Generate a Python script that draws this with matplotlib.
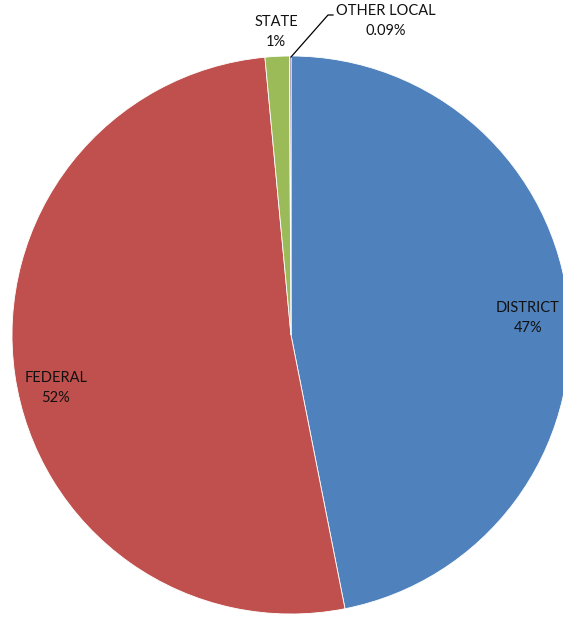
import matplotlib
matplotlib.use('Agg')
import matplotlib.pyplot as plt

plt.rcParams['font.family'] = ['Lato', 'DejaVu Sans']

# revenue sources
labels = ['DISTRICT', 'FEDERAL', 'STATE', 'OTHER LOCAL']
shares = [46.9, 51.61, 1.4, 0.09]
pct_text = ['47%', '52%', '1%', '0.09%']
colors = ['#4F81BD', '#C0504D', '#9BBB59', '#8064A2']

W, H = 563, 618
cx, cy, r = 291, 335, 279

fig = plt.figure(figsize=(W / 100, H / 100), dpi=100)
fig.patch.set_facecolor('white')
ax = fig.add_axes([(cx - r) / W, (H - cy - r) / H, 2 * r / W, 2 * r / H])

ax.pie(shares, colors=colors, startangle=90, counterclock=False, radius=1,
       wedgeprops=dict(edgecolor='white', linewidth=0.6))

# pie() resets the limits, so put them back afterwards
ax.set_xlim(-1, 1)
ax.set_ylim(-1, 1)
ax.set_aspect('equal')
ax.axis('off')

def to_data(px, py):
    return (px - cx) / r, (cy - py) / r

# label spots in pixels (centre of the two-line label)
label_px = [(528, 318), (56, 388), (276, 32), (386, 21)]

for name, pct, (px, py) in zip(labels, pct_text, label_px):
    x, y = to_data(px, py)
    ax.text(x, y, name + '\n' + pct, ha='center', va='center', fontsize=10.5,
            color='#111111', linespacing=1.5, clip_on=False)

# leader line for the tiny slice
x0, y0 = to_data(291, 57)
x1, y1 = to_data(328, 15)
x2, y2 = to_data(333, 15)
ax.plot([x0, x1, x2], [y0, y1, y2], color='black', lw=0.9, clip_on=False)

fig.savefig('out.png', dpi=100)
